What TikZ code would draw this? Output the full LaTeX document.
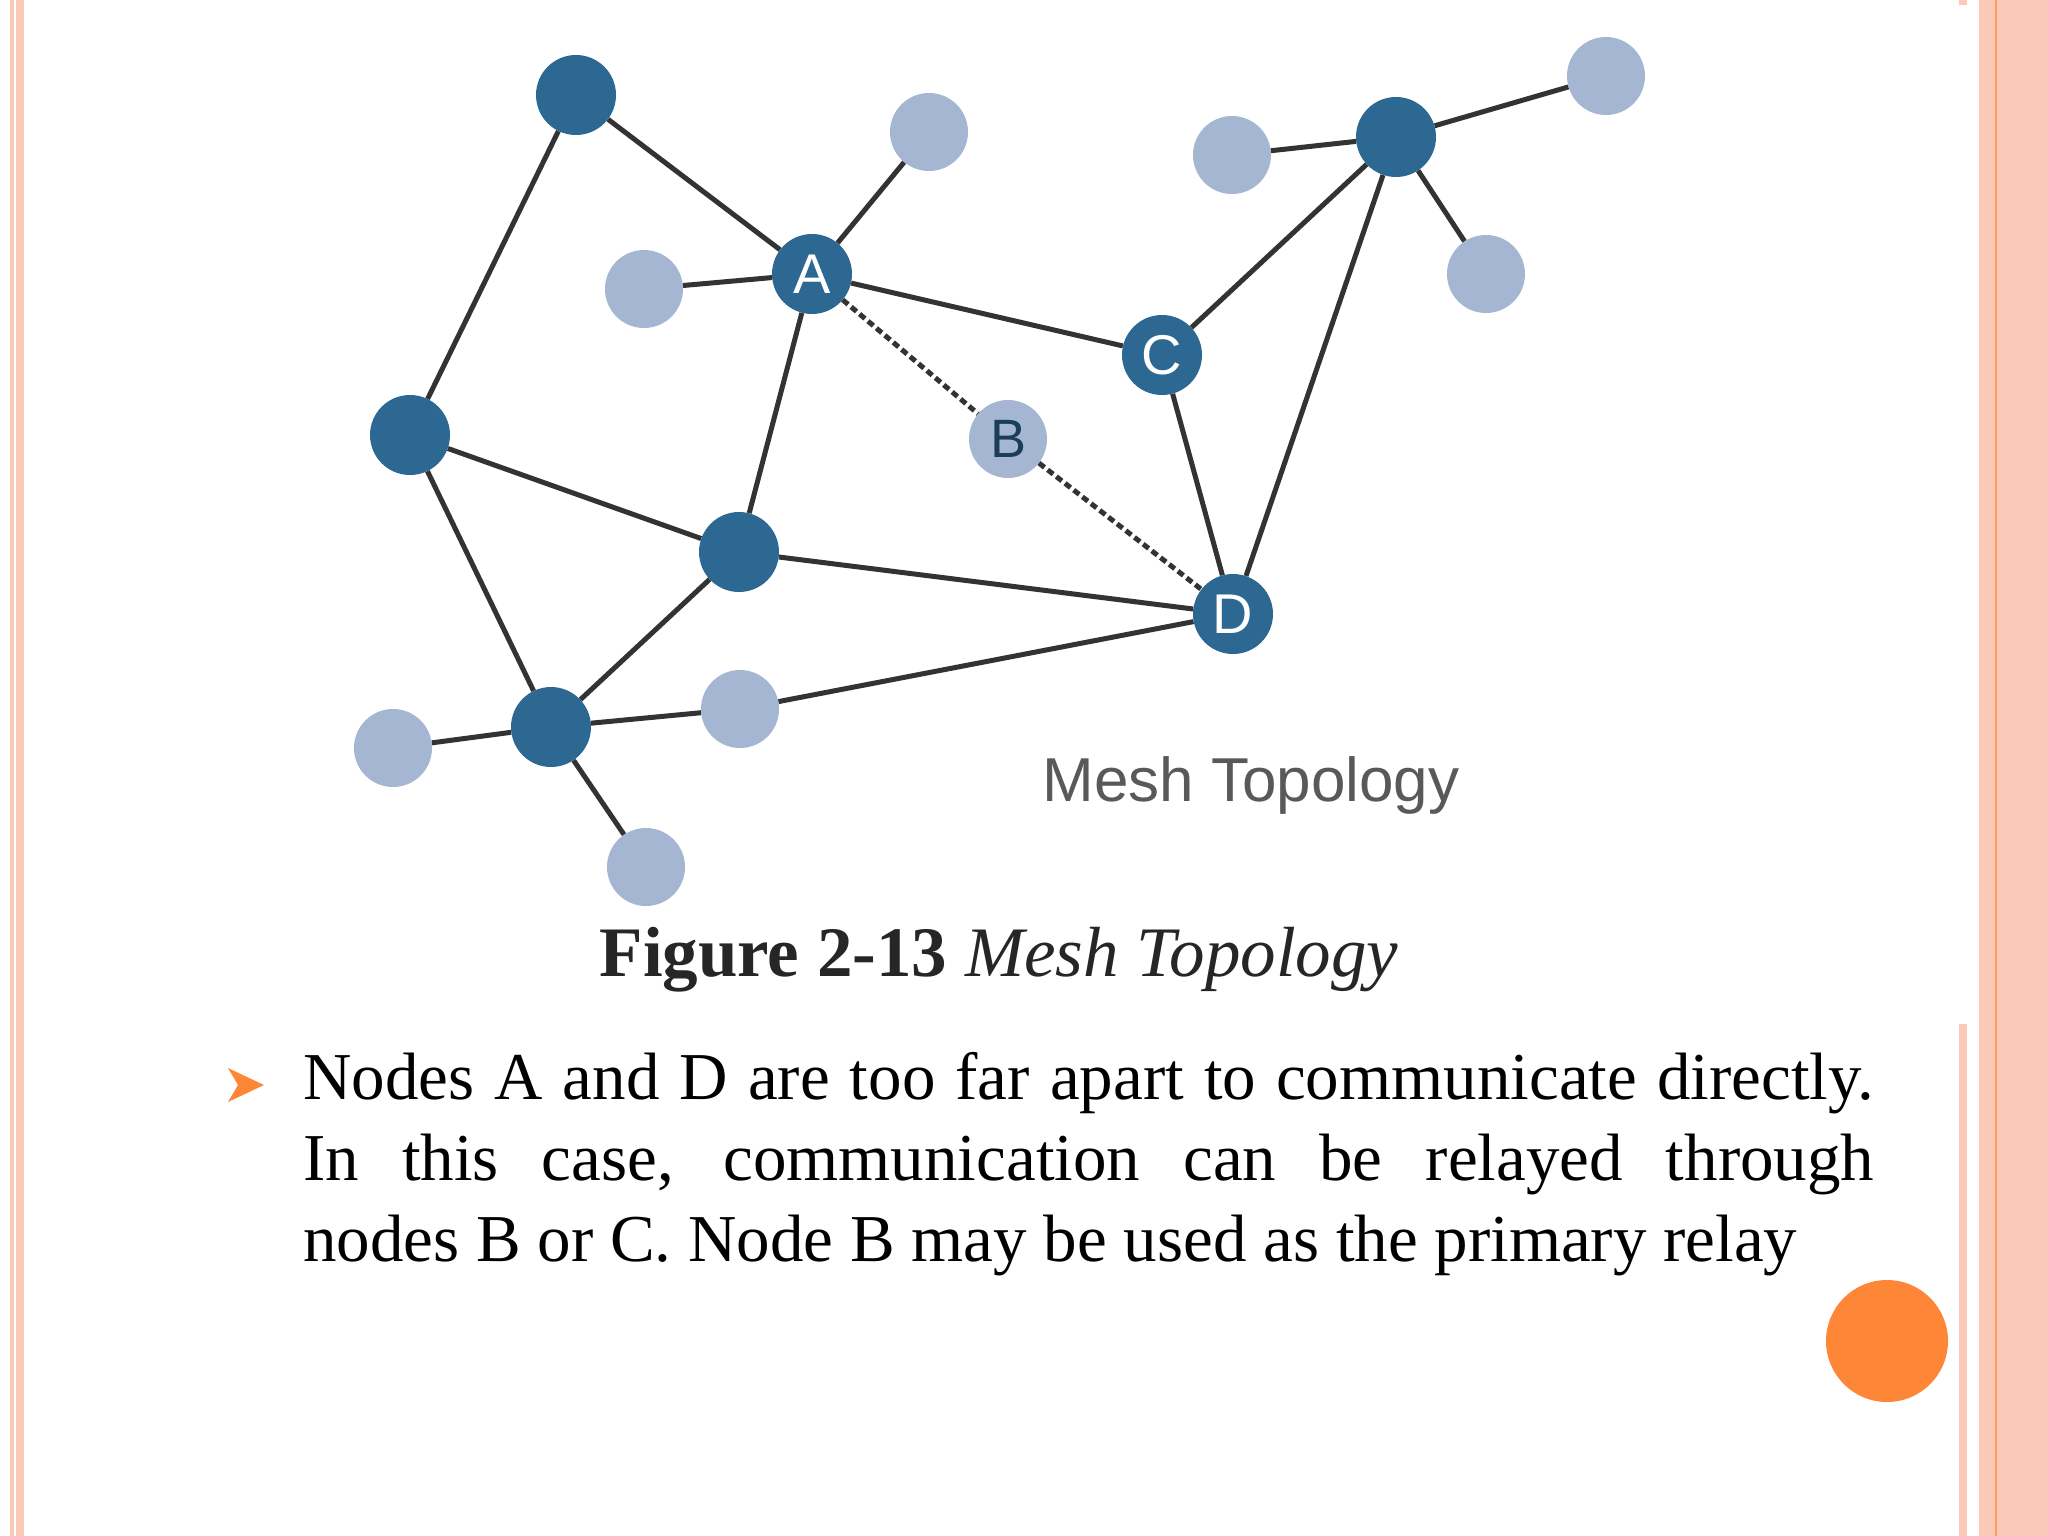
\documentclass[tikz,border=0pt]{standalone}
\usepackage{fontspec}
\setmainfont{Liberation Serif}
\newfontfamily\sansf{Liberation Sans}
\definecolor{dk}{HTML}{2C6892}
\definecolor{lt}{HTML}{A5B6D2}
\definecolor{edgec}{HTML}{333333}
\definecolor{peach}{HTML}{FBC9B8}
\definecolor{orng}{HTML}{FD8637}
\begin{document}
\begin{tikzpicture}[x=1pt,y=-1pt,
  dknode/.style={circle,fill=dk,minimum size=80pt,inner sep=0pt,text=white,font=\sansf\fontsize{56}{56}\selectfont},
  ltnode/.style={circle,fill=lt,minimum size=78pt,inner sep=0pt,text=dk!60!black,font=\sansf\fontsize{54}{54}\selectfont},
  ln/.style={draw=edgec,line width=5pt},
  dl/.style={draw=edgec,line width=5pt,dash pattern=on 7pt off 4pt}]
\useasboundingbox (0,0) rectangle (2048,1536);
\fill[white] (0,0) rectangle (2048,1536);
% borders
\fill[peach] (10,0) rectangle (24,1536);
\fill[white] (14,0) rectangle (16,1536);
\fill[peach] (1979,0) rectangle (2048,1536);
\draw[orng!80,line width=2pt] (1996,0) -- (1996,1536);
\fill[peach] (1959,0) rectangle (1967,5);
\fill[peach] (1959,1024) rectangle (1967,1536);
% nodes
\node[dknode] (n1) at (576,95) {};
\node[dknode] (A) at (812,274) {A};
\node[dknode] (C) at (1162,355) {C};
\node[dknode] (tr) at (1396,137) {};
\node[dknode] (lf) at (410,435) {};
\node[dknode] (md) at (739,552) {};
\node[dknode] (D) at (1233,614) {D};
\node[dknode] (bt) at (551,727) {};
\node[ltnode] (l1) at (929,132) {};
\node[ltnode] (l2) at (644,289) {};
\node[ltnode] (l3) at (1232,155) {};
\node[ltnode] (l4) at (1606,76) {};
\node[ltnode] (l5) at (1486,274) {};
\node[ltnode] (B) at (1008,439) {B};
\node[ltnode] (l6) at (740,709) {};
\node[ltnode] (l7) at (393,748) {};
\node[ltnode] (l8) at (646,867) {};
% edges
\foreach \a/\b in {n1/A,n1/lf,A/l1,A/l2,A/C,A/md,C/tr,C/D,tr/l3,tr/l4,tr/l5,tr/D,lf/md,lf/bt,md/D,md/bt,bt/l7,bt/l6,l6/D,bt/l8}
  \draw[ln] (\a) -- (\b);
\draw[dl] (A) -- (B);
\draw[dl] (B) -- (D);
% labels
\node[font=\sansf\fontsize{62}{62}\selectfont,text=black!65] (mt) at (1251,785) {Mesh Topology};
\node[font=\fontsize{71}{71}\selectfont,text=black!85] (cap) at (999,960) {\textbf{Figure 2-13} \textit{Mesh Topology}};
% bullet
\fill[orng] (228,1068) -- (264,1085) -- (228,1102) -- (238,1085) -- cycle;
\node[anchor=north west,inner sep=0pt,text width=1571pt,align=justify,font=\fontsize{67}{81}\selectfont] (txt) at (303,1052)
 {Nodes A and D are too far apart to communicate directly.\linebreak In this case, communication can be relayed through\linebreak nodes B or C. Node B may be used as the primary relay};
\node[circle,fill=orng,minimum size=122pt,inner sep=0pt] (oc) at (1887,1341) {};
\end{tikzpicture}
\end{document}
